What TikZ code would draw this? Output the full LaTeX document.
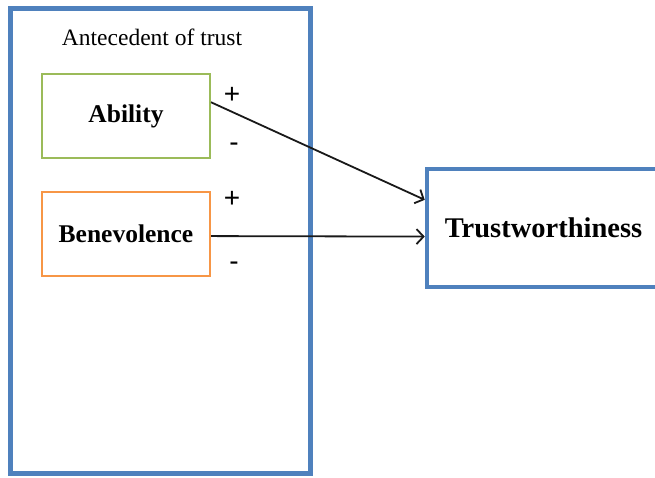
\documentclass[tikz,border=0pt]{standalone}
\usepackage{fontspec}
\setmainfont{Liberation Serif}
\newfontfamily\signfont{Liberation Sans}
\usetikzlibrary{calc,arrows.meta}
\definecolor{frameblue}{RGB}{79,129,189}
\definecolor{boxgreen}{RGB}{155,187,89}
\definecolor{boxorange}{RGB}{247,150,70}
\tikzset{
  inner/.style={draw, line width=2pt, minimum width=168pt, minimum height=84pt, inner sep=0pt, font=\fontsize{25.5}{28}\selectfont\bfseries},
  sign/.style={inner sep=0pt, font=\signfont\fontsize{28}{30}\selectfont},
  link/.style={line width=1.8pt, draw=black!90, -{Straight Barb[length=7pt,width=15pt,line width=1.8pt]}}
}
\begin{document}
\begin{tikzpicture}[x=1pt,y=-1pt]
\useasboundingbox (0,0) rectangle (655,477);
\begin{scope}
\clip (0,0) rectangle (655,477);
\node (frame) [draw=frameblue, line width=5pt, minimum width=300pt, minimum height=465pt, inner sep=0pt] at (160,240.5) {};
\node (trust) [draw=frameblue, line width=4.5pt, minimum width=233pt, minimum height=118pt, inner sep=0pt, font=\fontsize{28.5}{31}\selectfont\bfseries] at (543.5,228) {Trustworthiness};
\end{scope}
\node (title) [inner sep=0pt, font=\fontsize{23.5}{26}\selectfont] at (152,37) {Antecedent of trust};
\node (ab) [inner, draw=boxgreen] at (126,116) {Ability};
\node (be) [inner, draw=boxorange] at (126,233.5) {Benevolence};
\node (p1) [sign] at (232,95) {+};
\node (m1) [sign] at (234,147) {-};
\node (p2) [sign] at (232,199) {+};
\node (m2) [sign] at (234,266) {-};
\draw[link] ($(ab.north east)!0.34!(ab.south east)$) -- ($(trust.north west)!0.27!(trust.south west)$);
\draw[link] ($(be.north east)!0.53!(be.south east)$) -- ($(trust.north west)!0.57!(trust.south west)$);
\end{tikzpicture}
\end{document}
